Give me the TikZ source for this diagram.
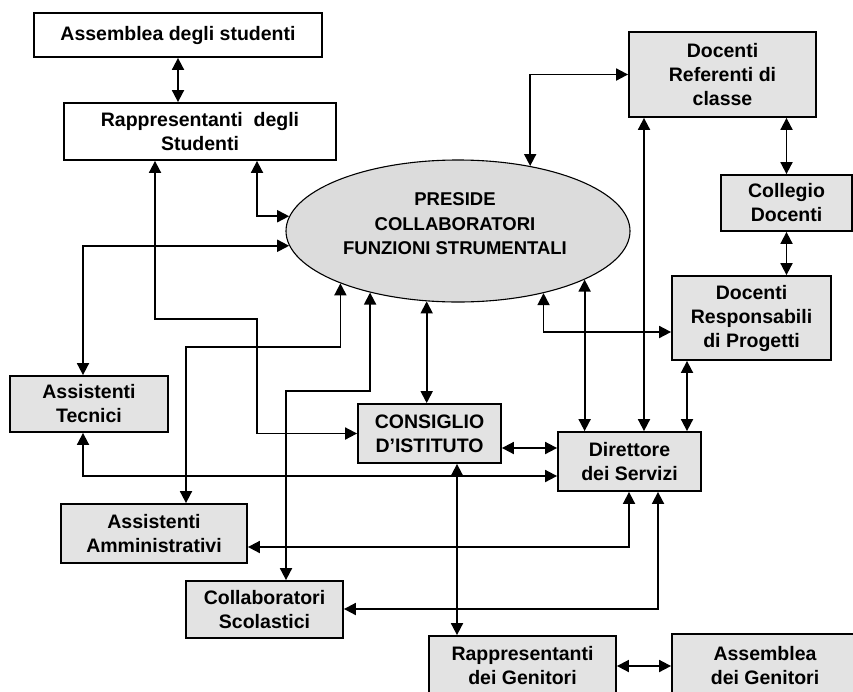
\documentclass[tikz,border=0pt]{standalone}
\usepackage{fontspec}
\setmainfont{Liberation Sans}
\usepackage{tikz}
\usetikzlibrary{arrows.meta,shapes.geometric}
\definecolor{boxgray}{RGB}{227,227,227}
\definecolor{ellgray}{RGB}{220,220,220}

\begin{document}
\begin{tikzpicture}[x=1pt, y=-1pt,
    box/.style = {draw, line width=1.8pt, fill=boxgray, align=center, inner sep=0pt,
                  font=\fontsize{19.5}{24}\selectfont\bfseries},
    wbox/.style = {box, fill=white},
    dbl/.style = {line width=1.8pt, {Triangle[length=12pt,width=12pt]}-{Triangle[length=12pt,width=12pt]}}]
    \useasboundingbox (0,0) rectangle (853,691);

    % organo centrale
    \node[ellipse, draw, line width=1.1pt, fill=ellgray, minimum width=344pt, minimum height=142pt,
          inner sep=0pt] (pres) at (458,231) {};
    \node[align=center, font=\fontsize{18.5}{24.5}\selectfont\bfseries] (prestxt) at (455,224)
        {PRESIDE\\COLLABORATORI\\FUNZIONI STRUMENTALI};

    % studenti
    \node[wbox, minimum width=288pt, minimum height=44pt] (assstud) at (178,35) {Assemblea degli studenti};
    \node[wbox, minimum width=272pt, minimum height=57pt] (rapstud) at (200,131.5) {Rappresentanti\ \ degli\\Studenti};

    % docenti
    \node[box, minimum width=187pt, minimum height=85pt] (docref) at (722.5,74.5) {Docenti\\Referenti di\\classe};
    \node[box, minimum width=131pt, minimum height=56pt] (colldoc) at (786.5,203) {Collegio\\Docenti};
    \node[box, minimum width=159pt, minimum height=84pt] (docresp) at (751.5,318) {Docenti\\Responsabili\\di Progetti};

    % personale ATA, consiglio, direttore
    \node[box, minimum width=158pt, minimum height=56pt] (asstec) at (89,404) {Assistenti\\Tecnici};
    \node[box, minimum width=143pt, minimum height=59pt] (consiglio) at (429.5,433.5) {CONSIGLIO\\D'ISTITUTO};
    \node[box, minimum width=143pt, minimum height=59pt] (direttore) at (629.5,461.5) {Direttore\\dei Servizi};
    \node[box, minimum width=186pt, minimum height=59pt] (assamm) at (154,533.5) {Assistenti\\Amministrativi};
    \node[box, minimum width=157pt, minimum height=57pt] (collscol) at (264.5,609.5) {Collaboratori\\Scolastici};

    % genitori
    \node[box, minimum width=187pt, minimum height=60pt] (rapgen) at (522.5,666) {Rappresentanti\\dei Genitori};
    \node[box, minimum width=186pt, minimum height=64pt] (assgen) at (765,666) {Assemblea\\dei Genitori};

    % collegamenti
    \draw[dbl] (assstud.south) -- (rapstud.north -| assstud.south);
    \draw[dbl] (rapstud.south -| 257,0) |- (pres.175.6);
    \draw[dbl] (rapstud.south -| 155,0) |- (257,319) |- (consiglio.west);
    \draw[dbl] (asstec.north -| 83,0) |- (pres.185.5);
    \draw[dbl] (pres.204.7) |- (186,347) -- (assamm.north -| 186,0);
    \draw[dbl] (pres.215.1) |- (286,391) -- (collscol.north -| 286,0);
    \draw[dbl] (pres.246.8) -- (consiglio.north -| pres.246.8);
    \draw[dbl] (pres.42.3) |- (docref.west);
    \draw[dbl] (docref.south -| 644,0) -- (direttore.north -| 644,0);
    \draw[dbl] (docref.south -| colldoc.north) -- (colldoc.north);
    \draw[dbl] (colldoc.south) -- (docresp.north -| colldoc.south);
    \draw[dbl] (pres.324.4) |- (docresp.west |- 0,332);
    \draw[dbl] (pres.339.7) -- (direttore.north -| pres.339.7);
    \draw[dbl] (docresp.south -| 687,0) -- (direttore.north -| 687,0);
    \draw[dbl] (consiglio.east |- 0,448) -- (direttore.west |- 0,448);
    \draw[dbl] (asstec.south -| 83,0) |- (direttore.west |- 0,476);
    \draw[dbl] (assamm.east |- 0,547) -| (direttore.south -| 629,0);
    \draw[dbl] (collscol.east |- 0,609) -| (direttore.south -| 658,0);
    \draw[dbl] (consiglio.south -| 457,0) -- (rapgen.north -| 457,0);
    \draw[dbl] (rapgen.east |- 0,666) -- (assgen.west |- 0,666);
\end{tikzpicture}
\end{document}
